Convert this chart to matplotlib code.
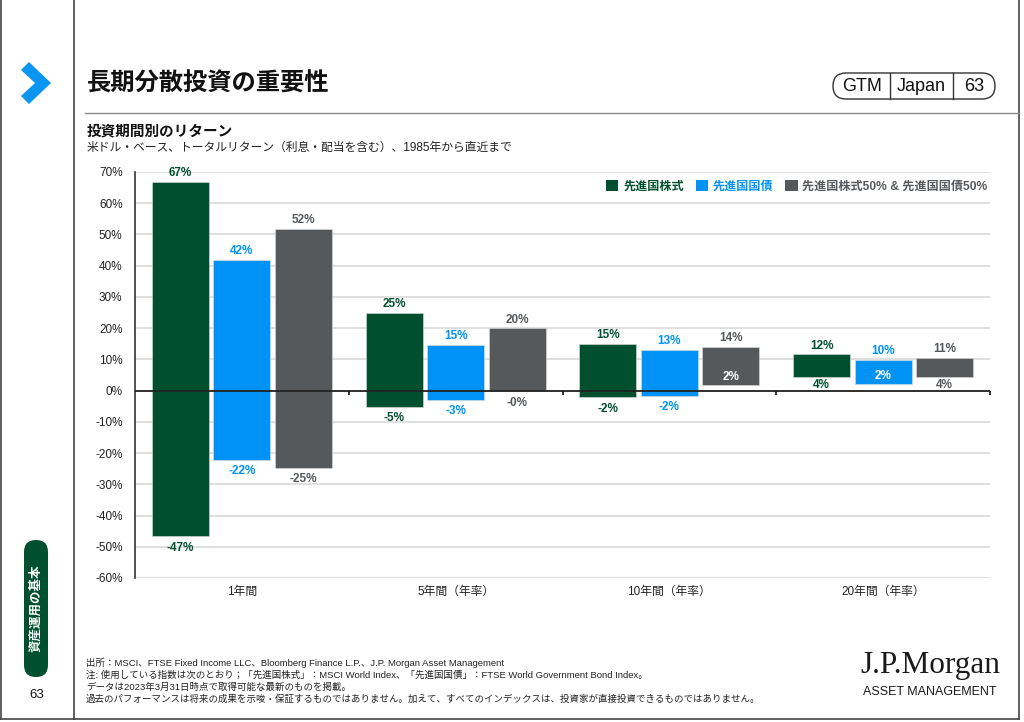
import numpy as np
import matplotlib
matplotlib.use('Agg')
import matplotlib.pyplot as plt
from matplotlib.patches import FancyBboxPatch, Polygon, Patch

plt.rcParams['font.family'] = ['Liberation Sans', 'Noto Sans CJK JP', 'DejaVu Sans']

# データ
periods = ['1年間', '5年間（年率）', '10年間（年率）', '20年間（年率）']
series_names = ['先進国株式', '先進国国債', '先進国株式50% & 先進国国債50%']
stock_max = [66.9, 25.0, 15.0, 11.6]
stock_min = [-46.7, -5.1, -2.2, 4.2]
bond_max = [41.9, 14.7, 13.1, 9.9]
bond_min = [-22.1, -2.9, -1.6, 2.2]
mix_max = [51.9, 19.9, 14.1, 10.6]
mix_min = [-24.7, -0.2, 1.9, 4.2]
yticks = [70, 60, 50, 40, 30, 20, 10, 0, -10, -20, -30, -40, -50, -60]

colors = ['#00502F', '#0093F5', '#56595C']
W, H = 1024, 722

fig = plt.figure(figsize=(W / 100, H / 100), dpi=100)
fig.patch.set_facecolor('white')

# ページ装飾用（ピクセル座標）
bg = fig.add_axes([0, 0, 1, 1])
bg.set_xlim(0, W)
bg.set_ylim(H, 0)
bg.axis('off')

# ページ枠
bg.plot([1, 1], [0, 719], color='#444444', lw=1.2)
bg.plot([74, 74], [0, 719], color='#444444', lw=1.2)
bg.plot([1019, 1019], [0, 719], color='#444444', lw=1.2)
bg.plot([1, 1019], [719, 719], color='#444444', lw=1.2)
bg.plot([85, 1019], [113, 113], color='#888888', lw=1)

# シェブロン
chev = [(21, 70), (29, 62), (51, 83), (29, 104), (21, 96), (35, 83)]
bg.add_patch(Polygon(chev, closed=True, facecolor='#0A96F0', edgecolor='none'))

# タイトル
bg.text(87, 84, '長期分散投資の重要性', fontsize=17.5, fontweight='bold', va='center', ha='left',
        color='#111111')
bg.text(87, 131, '投資期間別のリターン', fontsize=10.5, fontweight='bold', va='center', ha='left',
        color='#111111')
bg.text(87, 148, '米ドル・ベース、トータルリターン（利息・配当を含む）、1985年から直近まで',
        fontsize=8.5, va='center', ha='left', color='#222222')

# GTM Japan 63
bg.add_patch(FancyBboxPatch((833, 73), 162, 26, boxstyle='round,pad=0,rounding_size=13',
                            facecolor='white', edgecolor='#333333', lw=1))
bg.plot([890, 890], [73, 99], color='#333333', lw=1)
bg.plot([953, 953], [73, 99], color='#333333', lw=1)
bg.text(862, 86.5, 'GTM', fontsize=13, ha='center', va='center', color='#111111')
bg.text(921, 86.5, 'Japan', fontsize=13, ha='center', va='center', color='#111111')
bg.text(974, 86.5, '63', fontsize=13, ha='center', va='center', color='#111111')

# サイドバー
bg.add_patch(FancyBboxPatch((24, 540), 24, 137, boxstyle='round,pad=0,rounding_size=12',
                            facecolor='#00502F', edgecolor='none'))
bg.text(36, 608, '資産運用の基本', rotation=90, fontsize=9, fontweight='bold', color='white',
        ha='center', va='center')
bg.text(37, 695, '63', fontsize=9.5, ha='center', va='center', color='#111111')

# 脚注
notes = [
    '出所：MSCI、FTSE Fixed Income LLC、Bloomberg Finance L.P.、J.P. Morgan Asset Management',
    '注: 使用している指数は次のとおり；「先進国株式」：MSCI World Index、「先進国国債」：FTSE World Government Bond Index。',
    'データは2023年3月31日時点で取得可能な最新のものを掲載。',
    '過去のパフォーマンスは将来の成果を示唆・保証するものではありません。加えて、すべてのインデックスは、投資家が直接投資できるものではありません。',
]
for k, t in enumerate(notes):
    bg.text(86, 663 + 12 * k, t, fontsize=6.8, ha='left', va='center', color='#222222')

# ロゴ
bg.text(930, 665, 'J.P.Morgan', family='Liberation Serif', fontsize=22.5, ha='center', va='center',
        color='#1A1A1A')
bg.text(930, 692, 'ASSET MANAGEMENT', fontsize=9, ha='center', va='center', color='#1A1A1A')

# グラフ
ax = fig.add_axes([135 / W, 1 - 578 / H, (990 - 135) / W, (578 - 172) / H])
x = np.arange(len(periods))
width = 0.267
offs = [-0.288, 0.0, 0.288]
maxs = [stock_max, bond_max, mix_max]
mins = [stock_min, bond_min, mix_min]

for i in range(3):
    hi = np.array(maxs[i])
    lo = np.array(mins[i])
    ax.bar(x + offs[i], hi - lo, bottom=lo, width=width, color=colors[i], edgecolor='#DDDDDD',
           lw=0.4, zorder=3, label=series_names[i])
    for j in range(len(periods)):
        ax.annotate(f'{hi[j]:.0f}%', (x[j] + offs[i], hi[j]), xytext=(0, 2), textcoords='offset points',
                    ha='center', va='bottom', fontsize=8.5, fontweight='bold', color=colors[i], zorder=4)
        if 0 < lo[j] < 3:
            ax.annotate(f'{lo[j]:.0f}%', (x[j] + offs[i], lo[j]), xytext=(0, 1), textcoords='offset points',
                        ha='center', va='bottom', fontsize=8.5, fontweight='bold', color='white', zorder=4)
        elif lo[j] >= 3:
            ax.annotate(f'{lo[j]:.0f}%', (x[j] + offs[i], lo[j]), xytext=(0, -1), textcoords='offset points',
                        ha='center', va='top', fontsize=8.5, fontweight='bold', color=colors[i], zorder=4)
        else:
            ax.annotate(f'{lo[j]:.0f}%', (x[j] + offs[i], lo[j]), xytext=(0, -4), textcoords='offset points',
                        ha='center', va='top', fontsize=8.5, fontweight='bold', color=colors[i], zorder=4)

ax.set_xlim(-0.5, len(periods) - 0.5)
ax.set_ylim(-60, 70)
ax.set_yticks(yticks)
ax.set_yticklabels([f'{t}%' for t in yticks], fontsize=8.5, color='#222222')
ax.tick_params(axis='y', length=0, pad=9)
ax.set_xticks([])
ax.grid(axis='y', color='#DCDCDC', lw=1.3, zorder=0)
ax.set_axisbelow(True)
for s in ['top', 'right', 'bottom']:
    ax.spines[s].set_visible(False)
ax.spines['left'].set_color('#333333')
ax.spines['left'].set_linewidth(1.2)
ax.axhline(0, color='#222222', lw=1.3, zorder=5)
ax.vlines(np.arange(len(periods)) + 0.5, -1.3, 0, color='#222222', lw=1.3, zorder=5, clip_on=False)

for j, p in enumerate(periods):
    ax.text(x[j], -62.5, p, ha='center', va='top', fontsize=8.5, color='#222222')

handles = [Patch(facecolor=c, edgecolor='none') for c in colors]
leg = ax.legend(handles, series_names, loc='center right', bbox_to_anchor=(1.0, 0.9655), ncol=3,
                frameon=True, facecolor='white', edgecolor='none', framealpha=1,
                handlelength=1.0, handleheight=1.0, handletextpad=0.4, columnspacing=1.0,
                borderpad=0.2, borderaxespad=0, prop={'size': 8.7, 'weight': 'bold'})
for t, c in zip(leg.get_texts(), colors):
    t.set_color(c)

fig.savefig('out.png', dpi=100)
